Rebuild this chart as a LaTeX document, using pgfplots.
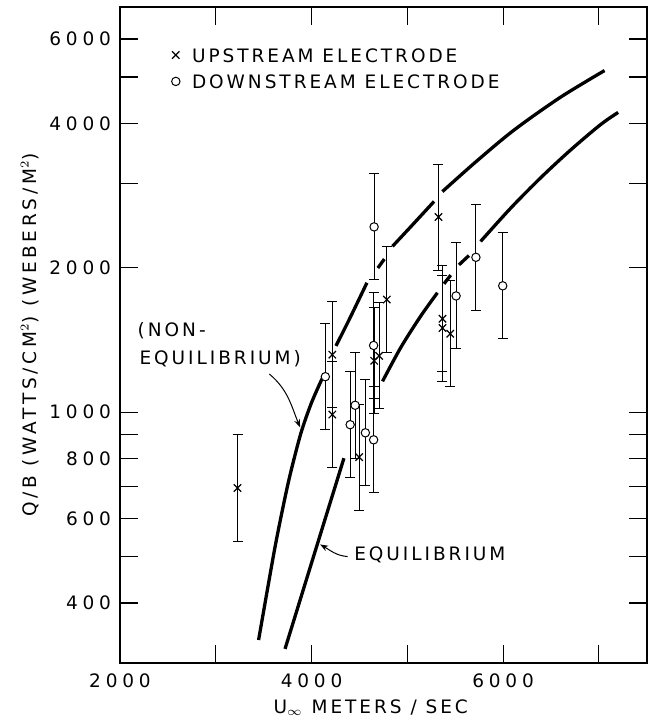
\documentclass[border=0pt]{standalone}
\usepackage{pgfplots}
\pgfplotsset{compat=1.18}
\usetikzlibrary{arrows.meta}
\usepackage{fontspec}
\setmainfont{DejaVu Sans}
\newfontfamily\labelfont[LetterSpace=16]{DejaVu Sans}
\newfontfamily\widelabelfont[LetterSpace=20]{DejaVu Sans}
\newfontfamily\digitfont[LetterSpace=26]{DejaVu Sans}
\newcommand\lbl{\labelfont\fontsize{9.25}{11}\selectfont}
\newcommand\wlbl{\widelabelfont\fontsize{9.25}{11}\selectfont}
\newcommand\dgt{\digitfont\fontsize{9.25}{11}\selectfont}

\begin{document}
\begin{tikzpicture}
\useasboundingbox (-60pt,-30.5pt) rectangle (264pt,331.5pt);
\begin{axis}[
  scale only axis, width=263.4pt, height=328pt,
  at={(0,0)}, anchor=south west,
  xmin=2000, xmax=7500,
  ymode=log, ymin=300, ymax=7000,
  xtick={2000,3000,...,7000},
  xticklabels={2000,,4000,,6000,},
  ytick={400,500,600,700,800,900,1000,2000,3000,4000,5000,6000},
  yticklabels={400,,600,,800,,1000,2000,,4000,,6000},
  xminorticks=false, yminorticks=false,
  xtick pos=both, ytick pos=both,
  tick align=inside, major tick length=9pt,
  axis line style={line width=0.9pt},
  tick style={line width=0.6pt, black},
  tick label style={font=\dgt},
  /pgf/number format/assume math mode=true,
  xticklabel style={yshift=-2pt},
  yticklabel style={xshift=-1pt},
  xlabel={U$_{\infty}$ METERS / SEC},
  ylabel={Q/B (WATTS/CM$^{2}$) (WEBERS/M$^{2}$)},
  every axis x label/.style={at={(axis description cs:0.476,-0.0686)}, anchor=center, font=\lbl},
  every axis y label/.style={at={(axis description cs:-0.171,0.5)}, rotate=90, anchor=center, font=\wlbl},
  legend image code/.code={\draw[#1] plot coordinates {(0cm,0cm)};},
  legend style={draw=none, fill=none, inner sep=0pt, outer sep=0pt,
    at={(axis cs:2539,5748)}, anchor=north west,
    font=\lbl, row sep=6.2pt,
    nodes={inner sep=0pt, text height=7pt, text depth=0pt},
    /tikz/every odd column/.append style={column sep=6pt}},
  legend cell align=left,
]

% non-equilibrium curve, drawn in pieces that stop short of the data
\addplot[black, line width=1.65pt, smooth, forget plot] coordinates {
  (3447,335) (3612,515) (3716,654) (3786,755) (3890,906) (3994,1040) (4098,1161) (4120,1180)};
\addplot[black, line width=1.65pt, smooth, forget plot] coordinates {
  (4255,1375) (4411,1587) (4578,1862)};
\addplot[black, line width=1.65pt, forget plot] coordinates {
  (4692,1999) (4760,2086)};
\addplot[black, line width=1.65pt, smooth, forget plot] coordinates {
  (4845,2218) (5036,2437) (5279,2751)};
\addplot[black, line width=1.65pt, smooth, forget plot] coordinates {
  (5366,2885) (5713,3325) (6112,3874) (6599,4538) (7059,5158)};

% equilibrium curve
\addplot[black, line width=1.65pt, forget plot] coordinates {
  (3723,321) (4031,508) (4338,802)};
\addplot[black, line width=1.65pt, smooth, forget plot] coordinates {
  (4741,1160) (4932,1365) (5140,1587) (5314,1775)};
\addplot[black, line width=1.65pt, forget plot] coordinates {
  (5383,1853) (5453,1932)};
\addplot[black, line width=1.65pt, forget plot] coordinates {
  (5539,2029) (5643,2122)};
\addplot[black, line width=1.65pt, smooth, forget plot] coordinates {
  (5765,2271) (6078,2663) (6391,3081) (6704,3522) (7016,3978) (7201,4219)};

% upstream electrode
\addplot[black, only marks, mark=x, mark size=2.6pt, mark options={line width=0.6pt},
  error bars/.cd, y dir=both, y explicit,
  error bar style={line width=0.5pt},
  error mark options={rotate=90, line width=0.5pt, mark size=2.5pt}]
coordinates {
  (3227,695)  += (0,201.6) -= (0,156.2)
  (4217,1318) += (0,382.2) -= (0,296.3)
  (4217,989)  += (0,286.8) -= (0,222.3)
  (4497,806)  += (0,233.7) -= (0,181.2)
  (4654,1280) += (0,371.2) -= (0,287.7)
  (4706,1311) += (0,380.2) -= (0,294.7)
  (4786,1718) += (0,498.2) -= (0,386.2)
  (5325,2553) += (0,740.4) -= (0,573.9)
  (5367,1566) += (0,454.1) -= (0,352.0)
  (5367,1498) += (0,434.4) -= (0,336.8)
  (5448,1458) += (0,422.8) -= (0,327.8)
};
\addlegendentry{UPSTREAM ELECTRODE}

% downstream electrode
\addplot[black, only marks, mark=*, mark size=2.1pt,
  mark options={fill=white, draw=black, line width=0.5pt},
  error bars/.cd, y dir=both, y explicit,
  error bar style={line width=0.5pt},
  error mark options={rotate=90, line width=0.5pt, mark size=2.5pt}]
coordinates {
  (4144,1186) += (0,343.9) -= (0,266.6)
  (4653,2435) += (0,706.2) -= (0,547.4)
  (4455,1034) += (0,299.9) -= (0,232.4)
  (4403,942)  += (0,273.2) -= (0,211.8)
  (4562,906)  += (0,262.7) -= (0,203.7)
  (4648,876)  += (0,254.0) -= (0,196.9)
  (4648,1378) += (0,399.6) -= (0,309.8)
  (5509,1748) += (0,506.9) -= (0,393.0)
  (5716,2104) += (0,610.2) -= (0,473.0)
  (5996,1835) += (0,532.2) -= (0,412.5)
};
\addlegendentry{DOWNSTREAM ELECTRODE}

% curve labels
\node[font=\lbl, anchor=base west, inner sep=0pt] at (axis cs:2181,1437) {(NON-};
\node[font=\lbl, anchor=base west, inner sep=0pt] at (axis cs:2200,1257) {EQUILIBRIUM)};
\draw[-{Stealth[length=4pt,width=3pt]}, line width=0.5pt]
  (axis cs:3560,1201) to[out=-40, in=112] (axis cs:3880,930);
\node[font=\lbl, anchor=base west, inner sep=0pt] at (axis cs:4442,490) {EQUILIBRIUM};
\draw[-{Stealth[length=4pt,width=3pt]}, line width=0.5pt]
  (axis cs:4377,500) to[out=175, in=-30] (axis cs:4090,530);
\end{axis}
\end{tikzpicture}
\end{document}
